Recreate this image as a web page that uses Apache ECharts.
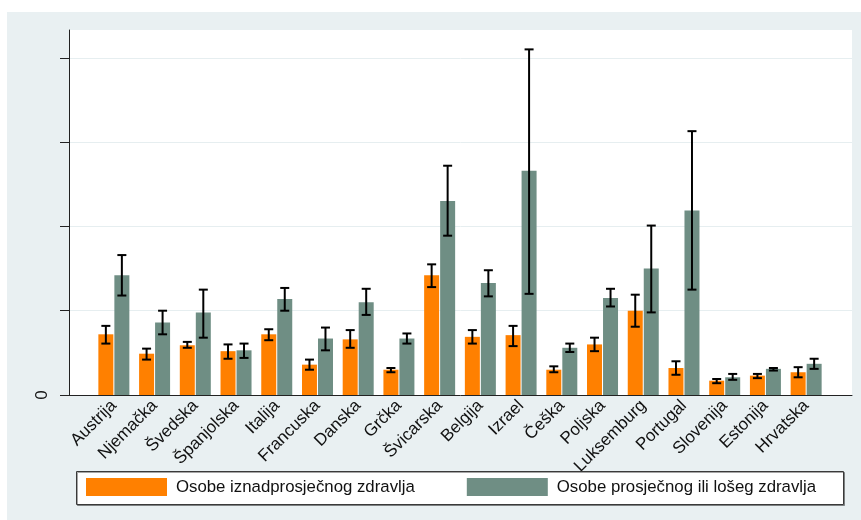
<!DOCTYPE html>
<html>
<head>
<meta charset="utf-8">
<script src="https://cdn.jsdelivr.net/npm/echarts@6/dist/echarts.min.js"></script>
<style>html,body{margin:0;padding:0;background:#fff}#c{width:861px;height:520px}</style>
</head>
<body>
<div id="c"></div>
<script>
const categories = ['Austrija','Njemačka','Švedska','Španjolska','Italija','Francuska','Danska','Grčka','Švicarska','Belgija','Izrael','Češka','Poljska','Luksemburg','Portugal','Slovenija','Estonija','Hrvatska'];
const seriesNames = ['Osobe iznadprosječnog zdravlja','Osobe prosječnog ili lošeg zdravlja'];
const aboveVal  = [0.72,0.49,0.59,0.52,0.72,0.36,0.66,0.30,1.42,0.69,0.71,0.30,0.60,1.00,0.32,0.17,0.23,0.27];
const aboveLow  = [0.61,0.42,0.56,0.43,0.65,0.30,0.56,0.27,1.28,0.61,0.58,0.27,0.52,0.81,0.24,0.14,0.20,0.21];
const aboveHigh = [0.82,0.55,0.63,0.60,0.78,0.42,0.77,0.32,1.55,0.77,0.82,0.34,0.68,1.19,0.40,0.19,0.25,0.33];
const belowVal  = [1.42,0.86,0.98,0.53,1.14,0.67,1.10,0.67,2.30,1.33,2.66,0.56,1.15,1.50,2.19,0.21,0.31,0.37];
const belowLow  = [1.18,0.72,0.68,0.44,1.00,0.53,0.95,0.61,1.89,1.17,1.20,0.51,1.05,0.98,1.25,0.18,0.29,0.31];
const belowHigh = [1.66,1.00,1.25,0.61,1.27,0.80,1.26,0.73,2.72,1.48,4.10,0.61,1.26,2.01,3.13,0.25,0.32,0.43];
const yTicks = [0,1,2,3,4];
const yMax = 4.33;

const ORANGE = '#ff8000', GREY = '#6f8e84';
const BAR_W = 15, OFFSET = 8;

function errSeries(low, high, off) {
  return {
    type: 'custom', xAxisIndex: 0, yAxisIndex: 0, z: 5, silent: true,
    data: low.map((l, i) => [i, l, high[i]]),
    renderItem: function (params, api) {
      const i = api.value(0);
      const p1 = api.coord([i, api.value(1)]);
      const p2 = api.coord([i, api.value(2)]);
      const x = p1[0] + off, hw = 4.5;
      const st = {stroke: '#000', lineWidth: 2};
      return {type: 'group', children: [
        {type: 'line', shape: {x1: x, y1: p1[1], x2: x, y2: p2[1]}, style: st},
        {type: 'line', shape: {x1: x - hw, y1: p1[1], x2: x + hw, y2: p1[1]}, style: st},
        {type: 'line', shape: {x1: x - hw, y1: p2[1], x2: x + hw, y2: p2[1]}, style: st}
      ]};
    }
  };
}

const chart = echarts.init(document.getElementById('c'), null, {renderer: 'canvas'});
chart.setOption({
  backgroundColor: '#e9f0f2',
  animation: false,
  textStyle: {fontFamily: '"Liberation Sans", Arial, sans-serif'},
  graphic: [
    {type: 'rect', z: 0, shape: {x: 0, y: 0, width: 861, height: 12}, style: {fill: '#fff'}},
    {type: 'rect', z: 0, shape: {x: 0, y: 0, width: 7, height: 520}, style: {fill: '#fff'}},
    {type: 'rect', z: 1, shape: {x: 76.5, y: 471.5, width: 767, height: 33}, style: {fill: '#fff', stroke: '#3a3a3a', lineWidth: 1, shadowColor: 'rgba(0,0,0,0.35)', shadowOffsetX: 1, shadowOffsetY: 1}}
  ],
  grid: [
    {left: 93.5, right: 34.5, top: 30, bottom: 125},
    {left: 69, right: 9, top: 30, bottom: 125, show: true, backgroundColor: '#fff', borderWidth: 0, z: -1}
  ],
  legend: {
    data: seriesNames, left: 81, top: 473, itemWidth: 81, itemHeight: 18, itemGap: 52,
    icon: 'rect', z: 10,
    textStyle: {fontSize: 16.8, color: '#111', padding: [0, 0, 0, 4]}
  },
  xAxis: [
    {type: 'category', gridIndex: 0, data: categories,
     axisLine: {show: false}, axisTick: {show: false},
     axisLabel: {rotate: 45, fontSize: 17, color: '#111', margin: 8, interval: 0}},
    {type: 'value', gridIndex: 1, min: 0, max: 1,
     axisLine: {show: true, onZero: false, lineStyle: {color: '#222', width: 1}},
     axisTick: {show: false}, axisLabel: {show: false}, splitLine: {show: false}}
  ],
  yAxis: [
    {type: 'value', gridIndex: 0, min: 0, max: yMax, show: false, splitLine: {show: false}},
    {type: 'value', gridIndex: 1, min: 0, max: yMax,
     axisLine: {show: true, lineStyle: {color: '#222', width: 1}},
     axisTick: {show: true, length: 9, customValues: yTicks, lineStyle: {color: '#222'}},
     axisLabel: {show: true, customValues: yTicks, rotate: 90, fontSize: 17, color: '#111', margin: 18,
                 formatter: v => (v === 0 ? '0' : '')},
     splitLine: {show: true, lineStyle: {color: '#e6eef0', width: 1}}}
  ],
  series: [
    {name: seriesNames[0], type: 'bar', xAxisIndex: 0, yAxisIndex: 0, data: aboveVal,
     barWidth: BAR_W, barGap: '6.7%', itemStyle: {color: ORANGE}},
    {name: seriesNames[1], type: 'bar', xAxisIndex: 0, yAxisIndex: 0, data: belowVal,
     barWidth: BAR_W, barGap: '6.7%', itemStyle: {color: GREY}},
    errSeries(aboveLow, aboveHigh, -OFFSET),
    errSeries(belowLow, belowHigh, OFFSET)
  ]
});
</script>
</body>
</html>
